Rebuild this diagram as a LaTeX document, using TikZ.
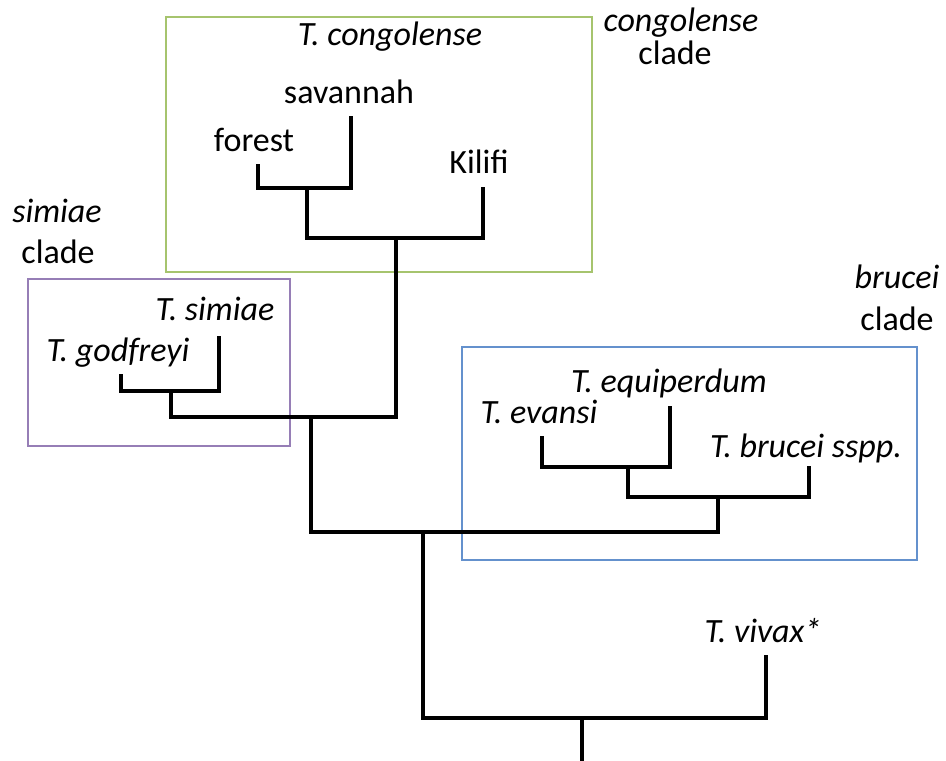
\documentclass[tikz,border=0pt]{standalone}
\usepackage{fontspec}
\setmainfont{Carlito}
\begin{document}
\begin{tikzpicture}[x=0.5pt,y=-0.5pt,
  branch/.style={line width=1.8pt,line join=miter,line cap=rect},
  cladebox/.style={line width=0.6pt},
  lab/.style={anchor=base,inner sep=0pt,font=\fontsize{17}{20}\selectfont},
  ilab/.style={lab,font=\fontsize{17}{20}\selectfont\itshape}]
\definecolor{boxgreen}{RGB}{166,196,110}
\definecolor{boxpurple}{RGB}{150,126,182}
\definecolor{boxblue}{RGB}{100,145,205}
\useasboundingbox (0,0) rectangle (946,760);
% clade boxes
\draw[cladebox,boxgreen] (166,17) rectangle (592,272);
\draw[cladebox,boxpurple] (28,279) rectangle (290,446);
\draw[cladebox,boxblue] (462,347) rectangle (917,560);
% labels
\node[ilab] (tcong) at (390,45) {T. congolense};
\node[lab] (lsav) at (349,103) {savannah};
\node[lab] (lfor) at (254,151) {forest};
\node[lab] (lkil) at (479,173) {Kilifi};
\node[ilab] (congc) at (681,32) {congolense};
\node[lab] (congc2) at (675,64) {clade};
\node[ilab] (simc) at (57,222) {simiae};
\node[lab] (simc2) at (58,263) {clade};
\node[ilab] (lsim) at (215,320) {T. simiae};
\node[ilab] (lgod) at (118,361) {T. godfreyi};
\node[ilab] (bruc) at (897,288) {brucei};
\node[lab] (bruc2) at (897,330) {clade};
\node[ilab] (lequ) at (669,392) {T. equiperdum};
\node[ilab] (leva) at (539,423) {T. evansi};
\node[ilab] (lbru) at (806,457) {T. brucei sspp.};
\node[ilab] (lviv) at (763,642) {T. vivax*};
% tree coordinates
\coordinate (ftip) at (258,166);
\coordinate (stip) at (351,118);
\coordinate (c1) at (307,188);
\coordinate (ktip) at (483,189);
\coordinate (c2) at (396,238);
\coordinate (gtip) at (121,376);
\coordinate (simtip) at (219,338);
\coordinate (c3) at (171,391);
\coordinate (c4) at (311,417);
\coordinate (evtip) at (542,438);
\coordinate (eqtip) at (670,408);
\coordinate (b1) at (628,467);
\coordinate (bstip) at (809,468);
\coordinate (b2) at (718,497);
\coordinate (c6) at (423,532);
\coordinate (root) at (582,718);
\coordinate (vtip) at (766,657);
\coordinate (base) at (582,764);
% tree
\draw[branch] (ftip) |- (c1) -| (stip);
\draw[branch] (c1) |- (c2) -| (ktip);
\draw[branch] (gtip) |- (c3) -| (simtip);
\draw[branch] (c3) |- (c4) -| (c2);
\draw[branch] (evtip) |- (b1) -| (eqtip);
\draw[branch] (b1) |- (b2) -| (bstip);
\draw[branch] (c4) |- (c6) -| (b2);
\draw[branch] (c6) |- (root) -| (vtip);
\draw[branch] (root) -- (base);
\end{tikzpicture}
\end{document}
